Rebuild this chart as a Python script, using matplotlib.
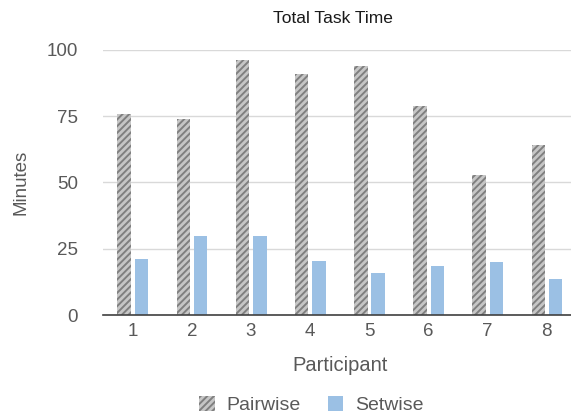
import matplotlib
matplotlib.use("Agg")
import matplotlib.pyplot as plt
import numpy as np

plt.rcParams['font.family'] = ['Liberation Sans', 'DejaVu Sans']
plt.rcParams['hatch.linewidth'] = 2.0

participants = ["1", "2", "3", "4", "5", "6", "7", "8"]
pairwise = [76, 74, 96, 91, 94, 79, 53, 64]
setwise = [21, 30, 30, 20.5, 16, 18.5, 20, 13.5]

txt = "#595959"

fig = plt.figure(figsize=(5.71, 4.19), dpi=100)
# axes runs a bit past the right edge, like the original
ax = fig.add_axes([0.1804, 0.248, 0.829, 0.633])

x = np.arange(len(participants))
w = 0.228
ax.bar(x - 0.142, pairwise, w, facecolor="#7f7f7f", edgecolor="#c6c6c6",
       hatch="/////", linewidth=0, label="Pairwise")
ax.bar(x + 0.15, setwise, w, color="#9bc0e4", linewidth=0, label="Setwise")

ax.set_xlim(-0.5, len(participants) - 0.5)
ax.set_ylim(0, 100)
ax.set_yticks([0, 25, 50, 75, 100])
ax.set_xticks(x)
ax.set_xticklabels(participants)
ax.yaxis.grid(True, color="#d9d9d9", lw=1)
ax.set_axisbelow(True)
for s in ["left", "right", "top"]:
    ax.spines[s].set_visible(False)
ax.spines["bottom"].set_color("#404040")
ax.spines["bottom"].set_linewidth(1.2)
ax.tick_params(length=0, labelsize=13.5, colors=txt)
ax.tick_params(axis="y", pad=18)
ax.tick_params(axis="x", pad=6)

fig.text(0.583, 0.957, "Total Task Time", ha="center", va="center",
         fontsize=12.5, color="#1a1a1a")
ax.set_xlabel("Participant", fontsize=14.5, color=txt, labelpad=11)
ax.set_ylabel("Minutes", fontsize=13.5, color=txt, labelpad=12)

fig.legend(*ax.get_legend_handles_labels(), loc="center",
           bbox_to_anchor=(0.545, 0.033), ncol=2, frameon=False,
           fontsize=14, labelcolor=txt, handlelength=0.8, handleheight=0.8,
           handletextpad=0.6, columnspacing=1.4)

fig.savefig("out.png", dpi=100)
